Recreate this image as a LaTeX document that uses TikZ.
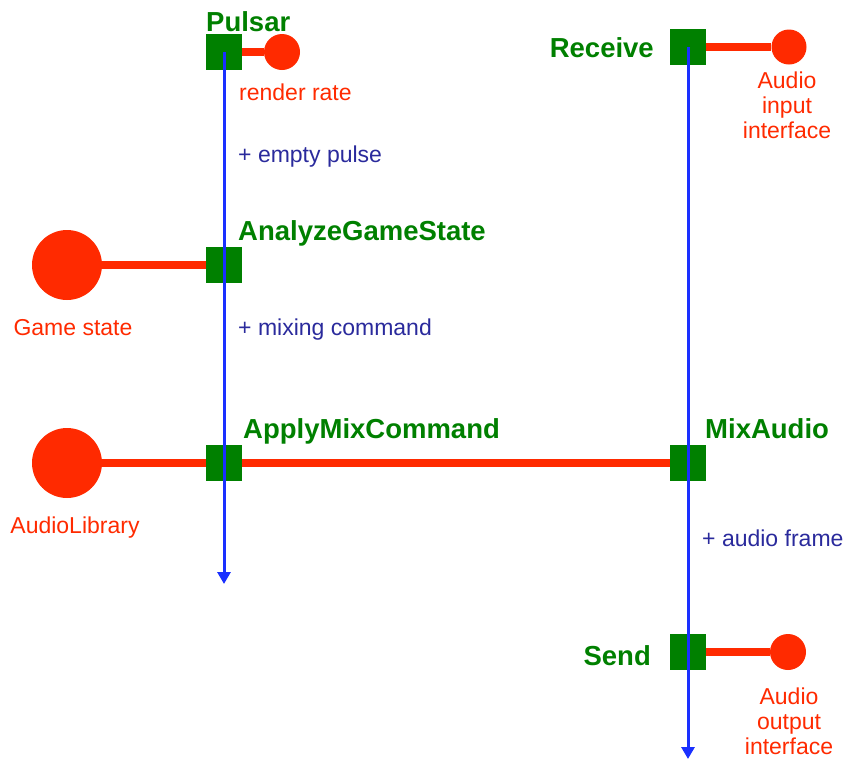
\documentclass[tikz,border=0pt]{standalone}
\usepackage{fontspec}
\setmainfont{Liberation Sans}
\usetikzlibrary{arrows.meta}
\definecolor{procgreen}{HTML}{008000}
\definecolor{portred}{HTML}{FF2A00}
\definecolor{flowblue}{HTML}{1A30FF}
\definecolor{datanavy}{HTML}{2A2A9C}
\begin{document}
\begin{tikzpicture}[x=1pt,y=-1pt,
  proc/.style={fill=procgreen, minimum size=36pt, inner sep=0pt},
  port/.style={circle, fill=portred, inner sep=0pt, minimum size=#1},
  link/.style={draw=portred, line width=8.5pt},
  flow/.style={draw=flowblue, line width=3pt, -{Triangle[width=13pt,length=12pt]}},
  proclabel/.style={inner sep=0pt, text=procgreen, font=\fontsize{27.5}{30}\selectfont\bfseries},
  portlabel/.style={inner sep=0pt, text=portred, align=center, font=\fontsize{23}{25}\selectfont},
  datalabel/.style={inner sep=0pt, text=datanavy, anchor=base west, font=\fontsize{23}{25}\selectfont}]
\useasboundingbox (0,0) rectangle (844,761);

% processing steps
\node[proc] (pulsar)  at (224,52)  {};
\node[proc] (analyze) at (224,265) {};
\node[proc] (apply)   at (224,463) {};
\node[proc] (receive) at (688,47)  {};
\node[proc] (mix)     at (688,463) {};
\node[proc] (send)    at (688,652) {};

% external ports
\node[port=36pt] (rate)    at (282,52)  {};
\node[port=70pt] (game)    at (67,265)  {};
\node[port=70pt] (library) at (67,463)  {};
\node[port=35pt] (audioin) at (789,47)  {};
\node[port=36pt] (audioout) at (788,652) {};

% port connections
\draw[link] (pulsar) -- (rate);
\draw[link] (game) -- (analyze);
\draw[link] (library) -- (apply);
\draw[link] (apply) -- (mix);
\draw[link] (receive) -- (audioin);
\draw[link] (send) -- (audioout);

% control flow lines
\coordinate (pulsarend) at (224,584);
\coordinate (receiveend) at (688,759);
\draw[flow] (pulsar.center) -- (pulsarend);
\draw[flow] (receive.center) -- (receiveend);

% step names
\node[proclabel, anchor=base west] (tpulsar)  at (206,31)  {Pulsar};
\node[proclabel, anchor=base west] (tanalyze) at (238,240) {AnalyzeGameState};
\node[proclabel, anchor=base west] (tapply)   at (243,438) {ApplyMixCommand};
\node[proclabel, anchor=base west] (tmix)     at (705,438) {MixAudio};
\node[proclabel, anchor=base east] (treceive) at (654,57)  {Receive};
\node[proclabel, anchor=base east] (tsend)    at (651,665) {Send};

% port names
\node[portlabel, anchor=base west] (trate) at (239,100) {render rate};
\node[portlabel, anchor=base] (tgame) at (73,335) {Game state};
\node[portlabel, anchor=base] (tlibrary) at (75,533) {AudioLibrary};
\node[portlabel, anchor=north] (tin) at (787,72) {Audio\\input\\interface};
\node[portlabel, anchor=north] (tout) at (789,688) {Audio\\output\\interface};

% data carried along the flow
\node[datalabel] (tpulse) at (238,162) {+ empty pulse};
\node[datalabel] (tcmd)   at (238,335) {+ mixing command};
\node[datalabel] (tframe) at (702,546) {+ audio frame};
\end{tikzpicture}
\end{document}
